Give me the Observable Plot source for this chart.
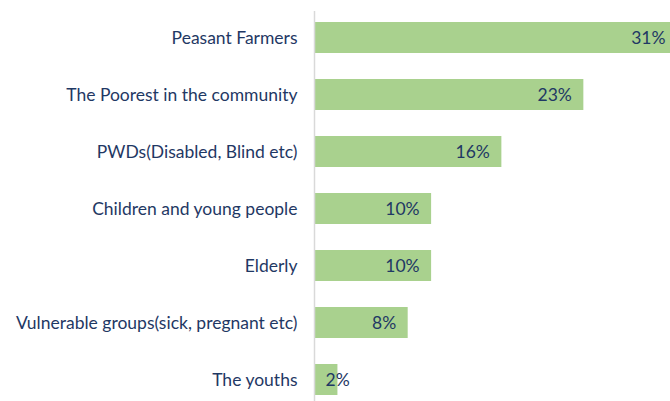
<!DOCTYPE html>
<html>
<head>
<meta charset="utf-8">
<script src="https://cdn.jsdelivr.net/npm/d3@7"></script>
<script src="https://cdn.jsdelivr.net/npm/@observablehq/plot@0.6"></script>
<style>
  html, body { margin: 0; padding: 0; background: #fff; overflow: hidden; }
  #chart svg { display: block; }
</style>
</head>
<body>
<div id="chart"></div>
<script>
const categories = [
  "Peasant Farmers",
  "The Poorest in the community",
  "PWDs(Disabled, Blind etc)",
  "Children and young people",
  "Elderly",
  "Vulnerable groups(sick, pregnant etc)",
  "The youths"
];
const values = [31, 23, 16, 10, 10, 8, 2];
const valueLabels = ["31%", "23%", "16%", "10%", "10%", "8%", "2%"];

const data = categories.map((c, i) => ({category: c, value: values[i], label: valueLabels[i]}));

const navy = "#1f3864";
const chart = Plot.plot({
  width: 670,
  height: 401,
  marginLeft: 314,
  marginRight: 0,
  marginTop: 20,
  marginBottom: 4,
  style: {fontFamily: "Lato, 'Open Sans', sans-serif", fontSize: "17.5px", color: navy, background: "#fff"},
  x: {domain: [0, 30.4], axis: null},
  y: {domain: categories, paddingInner: 0.46, paddingOuter: 0.01, label: null, tickSize: 0, tickPadding: 17},
  marks: [
    Plot.barX(data, {x: "value", y: "category", fill: "#a9d18e", clip: true}),
    Plot.ruleX([0], {stroke: "#d9d9d9", strokeWidth: 1.5, insetTop: -9, insetBottom: -4}),
    Plot.text(data.filter(d => d.value >= 5), {x: "value", y: "category", text: "label", textAnchor: "end", dx: -12, fill: navy, fontSize: 17.5}),
    Plot.text(data.filter(d => d.value < 5), {x: 0, y: "category", text: "label", textAnchor: "start", dx: 11, fill: navy, fontSize: 17.5})
  ]
});
document.getElementById("chart").appendChild(chart);
</script>
</body>
</html>
